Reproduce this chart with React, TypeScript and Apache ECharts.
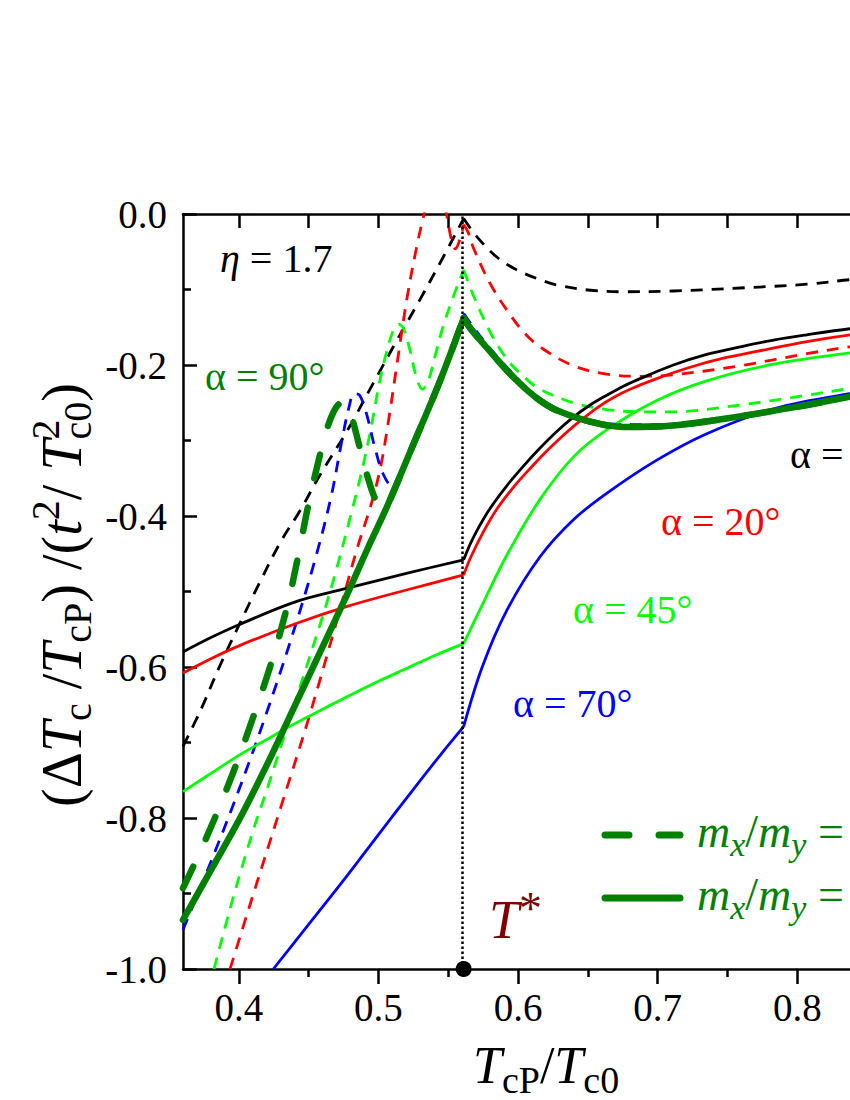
import React, { useEffect, useRef } from "react";
import * as echarts from "echarts";

const FONT = "Liberation Serif, Times New Roman, serif";

// ---- axis values ----
const X_MIN = 0.36;
const X_MAX = 0.9;
const X_MAJOR = [0.4, 0.5, 0.6, 0.7, 0.8, 0.9];
const X_MINOR = [0.45, 0.55, 0.65, 0.75, 0.85];
const Y_MIN = -1.0;
const Y_MAX = 0.0;
const Y_STEP = 0.2;
const T_STAR = 0.561;
const T_STAR_MARK = [[0.561, -1.0]];

// ---- curves: alpha = 10 deg (black) ----
const a10Solid = [
  [0.36, -0.58], [0.38, -0.561], [0.4, -0.544], [0.44, -0.514], [0.477, -0.496], [0.52, -0.476], [0.561, -0.458],
  [0.566, -0.436], [0.5715, -0.416], [0.5799, -0.39], [0.5919, -0.36], [0.6038, -0.334], [0.6157, -0.31], [0.6277, -0.288],
  [0.6396, -0.269], [0.6516, -0.253], [0.6635, -0.24], [0.6754, -0.228], [0.6874, -0.218], [0.7112, -0.2],
  [0.7351, -0.186], [0.759, -0.176], [0.7829, -0.167], [0.8068, -0.16], [0.8378, -0.152], [0.87, -0.146], [0.9, -0.141],
];
const a10Dashed = [
  [0.36, -0.705], [0.3722, -0.659], [0.3865, -0.598], [0.4, -0.545], [0.4152, -0.487], [0.43, -0.434], [0.4438, -0.393],
  [0.458, -0.346], [0.4773, -0.288], [0.4963, -0.224], [0.513, -0.168], [0.5298, -0.113], [0.5464, -0.057], [0.561, -0.006],
  [0.5704, -0.03], [0.5847, -0.057], [0.599, -0.074], [0.6157, -0.087], [0.6277, -0.094], [0.6516, -0.101], [0.6754, -0.103],
  [0.7112, -0.102], [0.759, -0.098], [0.8068, -0.093], [0.8378, -0.087], [0.9, -0.078],
];
// ---- alpha = 20 deg (red) ----
const a20Solid = [
  [0.36, -0.608], [0.38, -0.589], [0.4, -0.572], [0.44, -0.543], [0.477, -0.52], [0.52, -0.498], [0.561, -0.478],
  [0.566, -0.455], [0.5751, -0.421], [0.5847, -0.391], [0.5966, -0.362], [0.6086, -0.337], [0.6205, -0.314], [0.6324, -0.293],
  [0.6444, -0.274], [0.6563, -0.257], [0.6683, -0.243], [0.6802, -0.232], [0.6993, -0.218], [0.7232, -0.203],
  [0.747, -0.191], [0.7709, -0.182], [0.8068, -0.169], [0.8378, -0.16], [0.87, -0.153], [0.9, -0.147],
];
const a20Dashed = [
  [0.3937, -1.0], [0.41, -0.903], [0.43, -0.786], [0.45, -0.668], [0.47, -0.54], [0.4844, -0.445], [0.495, -0.383],
  [0.5015, -0.335], [0.5075, -0.27], [0.513, -0.202], [0.5202, -0.114], [0.5274, -0.043], [0.5322, -0.004], [0.537, 0.03],
  [0.5425, 0.04], [0.5465, 0.02], [0.5495, -0.008], [0.5525, -0.036], [0.555, -0.046], [0.5575, -0.038], [0.561, -0.014],
  [0.5644, -0.025], [0.568, -0.045], [0.5799, -0.092], [0.5919, -0.127], [0.6038, -0.156], [0.6157, -0.176],
  [0.6396, -0.201], [0.6634, -0.212], [0.6874, -0.215], [0.7112, -0.213], [0.759, -0.201], [0.8068, -0.185],
  [0.8378, -0.176], [0.9, -0.163],
];
// ---- alpha = 45 deg (lime) ----
const a45Solid = [
  [0.36, -0.765], [0.38, -0.741], [0.4, -0.717], [0.42, -0.696], [0.44, -0.675], [0.46, -0.656], [0.48, -0.637],
  [0.5, -0.619], [0.52, -0.602], [0.54, -0.585], [0.561, -0.569], [0.5727, -0.524], [0.5919, -0.452], [0.6157, -0.378],
  [0.6395, -0.322], [0.6634, -0.286], [0.6993, -0.247], [0.7351, -0.221], [0.7829, -0.199], [0.8378, -0.184], [0.9, -0.172],
];
const a45Dashed = [
  [0.3822, -1.0], [0.396, -0.905], [0.41, -0.818], [0.42, -0.763], [0.44, -0.648], [0.46, -0.533], [0.47, -0.47],
  [0.48, -0.4], [0.4875, -0.345], [0.4945, -0.285], [0.5005, -0.225], [0.5059, -0.182], [0.5105, -0.155],
  [0.5145, -0.146], [0.518, -0.152], [0.5225, -0.18], [0.527, -0.215], [0.5315, -0.232], [0.5355, -0.222],
  [0.541, -0.185], [0.5464, -0.148], [0.5535, -0.11], [0.561, -0.074], [0.568, -0.108], [0.5799, -0.156],
  [0.5919, -0.192], [0.6038, -0.215], [0.6157, -0.232], [0.6396, -0.25], [0.6634, -0.259], [0.6874, -0.262],
  [0.7112, -0.262], [0.759, -0.253], [0.8068, -0.24], [0.8378, -0.231], [0.9, -0.214],
];
// ---- alpha = 70 deg (blue) ----
const a70Solid = [
  [0.4247, -1.0], [0.45, -0.941], [0.4773, -0.877], [0.5, -0.822], [0.525, -0.762], [0.545, -0.715], [0.561, -0.679],
  [0.5743, -0.6], [0.5919, -0.525], [0.6157, -0.454], [0.6396, -0.405], [0.6634, -0.37], [0.6993, -0.326],
  [0.7351, -0.291], [0.7829, -0.258], [0.8378, -0.238], [0.9, -0.222],
];
const a70Dashed = [
  [0.36, -0.948], [0.38, -0.858], [0.4, -0.763], [0.42, -0.66], [0.44, -0.548], [0.455, -0.455], [0.466, -0.375],
  [0.474, -0.298], [0.479, -0.255], [0.4825, -0.238], [0.4865, -0.24], [0.4915, -0.265], [0.4975, -0.31],
  [0.5035, -0.345], [0.5106, -0.362], [0.517, -0.345], [0.525, -0.303], [0.5443, -0.216], [0.561, -0.132],
  [0.568, -0.15], [0.5799, -0.178], [0.5919, -0.203], [0.6038, -0.226], [0.6157, -0.245], [0.6396, -0.268],
  [0.6634, -0.278], [0.7, -0.279], [0.75, -0.269], [0.8068, -0.252], [0.8378, -0.24], [0.9, -0.222],
];
// ---- alpha = 90 deg (dark green, thick) ----
const a90Solid = [
  [0.36, -0.935], [0.38, -0.869], [0.4, -0.803], [0.42, -0.73], [0.4366, -0.665], [0.457, -0.585], [0.477, -0.506],
  [0.492, -0.444], [0.506, -0.388], [0.525, -0.305], [0.5443, -0.22], [0.561, -0.138], [0.566, -0.152],
  [0.5799, -0.182], [0.5919, -0.207], [0.6038, -0.229], [0.6157, -0.247], [0.6277, -0.26], [0.6516, -0.275],
  [0.6754, -0.282], [0.7112, -0.28], [0.759, -0.268], [0.8068, -0.253], [0.8378, -0.242], [0.87, -0.232], [0.9, -0.222],
];
const a90Dashed = [
  [0.36, -0.893], [0.377, -0.825], [0.3948, -0.745], [0.4092, -0.672], [0.4223, -0.6], [0.4343, -0.522],
  [0.4426, -0.452], [0.4498, -0.385], [0.4569, -0.328], [0.4629, -0.286], [0.469, -0.258], [0.4748, -0.248],
  [0.48, -0.265], [0.486, -0.305], [0.4925, -0.35], [0.4985, -0.381], [0.5035, -0.393], [0.506, -0.388],
  [0.525, -0.305], [0.5443, -0.22], [0.561, -0.138], [0.566, -0.152], [0.5799, -0.182], [0.5919, -0.207],
  [0.6038, -0.229], [0.6157, -0.247], [0.6277, -0.26], [0.6516, -0.275], [0.6754, -0.282], [0.7112, -0.28],
  [0.759, -0.268], [0.8068, -0.253], [0.8378, -0.242], [0.87, -0.232], [0.9, -0.222],
];

const BLACK = "#000000";
const RED = "#ff0000";
const LIME = "#00ff00";
const BLUE = "#0000ff";
const GREEN = "#008000";
const DARKRED = "#800000";

const THIN = 2.8;
const THICK = 6.5;
const THIN_DASH = [12, 9];
const THICK_DASH = [24, 30];

const CURVES = [
  { data: a10Dashed, color: BLACK, width: THIN, dash: THIN_DASH },
  { data: a20Dashed, color: RED, width: THIN, dash: THIN_DASH },
  { data: a45Dashed, color: LIME, width: THIN, dash: THIN_DASH },
  { data: a70Dashed, color: BLUE, width: THIN, dash: THIN_DASH },
  { data: a10Solid, color: BLACK, width: THIN, dash: null },
  { data: a20Solid, color: RED, width: THIN, dash: null },
  { data: a45Solid, color: LIME, width: THIN, dash: null },
  { data: a70Solid, color: BLUE, width: THIN, dash: null },
  { data: a90Dashed, color: GREEN, width: THICK, dash: THICK_DASH },
  { data: a90Solid, color: GREEN, width: THICK, dash: null },
];

// ---- rich text helper (graphic) ----
let measureCtx: CanvasRenderingContext2D | null = null;
function measure(text: string, size: number, italic?: boolean) {
  if (!measureCtx) measureCtx = document.createElement("canvas").getContext("2d");
  measureCtx!.font = `${italic ? "italic " : ""}${size}px ${FONT}`;
  return measureCtx!.measureText(text).width;
}
type Seg = { t: string; size: number; italic?: boolean; dy?: number; stack?: boolean };
function rich(segs: Seg[], color: string) {
  let x = 0;
  let lastW = 0;
  const children: any[] = [];
  for (const s of segs) {
    const w = measure(s.t, s.size, s.italic);
    const x0 = s.stack ? x - lastW : x;
    children.push({
      type: "text",
      x: x0,
      y: (s.dy || 0) - 0.34 * s.size,
      silent: true,
      style: {
        text: s.t,
        fontSize: s.size,
        fontFamily: FONT,
        fontStyle: s.italic ? "italic" : "normal",
        fill: color,
        align: "left",
        verticalAlign: "middle",
      },
    });
    if (s.stack) {
      x = Math.max(x, x0 + w);
    } else {
      x += w;
      lastW = w;
    }
  }
  return { children, width: x };
}

const LBL = 40;
const TEXT_LABELS: { segs: Seg[]; x: number; y: number; color: string }[] = [
  { segs: [{ t: "η", size: LBL, italic: true }, { t: " = 1.7", size: LBL }], x: 220, y: 272, color: BLACK },
  { segs: [{ t: "α = 90°", size: LBL }], x: 205, y: 390, color: GREEN },
  { segs: [{ t: "α = 10°", size: LBL }], x: 790, y: 468, color: BLACK },
  { segs: [{ t: "α = 20°", size: LBL }], x: 661, y: 535, color: RED },
  { segs: [{ t: "α = 45°", size: LBL }], x: 573, y: 623, color: LIME },
  { segs: [{ t: "α = 70°", size: LBL }], x: 513, y: 717, color: BLUE },
  { segs: [{ t: "T", size: 54, italic: true }, { t: "*", size: 46, dy: -14 }], x: 489, y: 938, color: DARKRED },
  {
    segs: [
      { t: "m", size: 46, italic: true }, { t: "x", size: 34, italic: true, dy: 9 }, { t: "/", size: 46 },
      { t: "m", size: 46, italic: true }, { t: "y", size: 34, italic: true, dy: 9 }, { t: " = 0.5", size: 46 },
    ],
    x: 697, y: 847, color: GREEN,
  },
  {
    segs: [
      { t: "m", size: 46, italic: true }, { t: "x", size: 34, italic: true, dy: 9 }, { t: "/", size: 46 },
      { t: "m", size: 46, italic: true }, { t: "y", size: 34, italic: true, dy: 9 }, { t: " = 1", size: 46 },
    ],
    x: 697, y: 910, color: GREEN,
  },
  {
    segs: [
      { t: "T", size: 52, italic: true }, { t: "cP", size: 38, dy: 10 }, { t: "/", size: 52 },
      { t: "T", size: 52, italic: true }, { t: "c0", size: 38, dy: 10 },
    ],
    x: 473, y: 1083, color: BLACK,
  },
];

const Y_TITLE: Seg[] = [
  { t: "(", size: 56 }, { t: "Δ", size: 56 }, { t: "T", size: 56, italic: true }, { t: "c", size: 40, dy: 10 },
  { t: " /", size: 56 }, { t: "T", size: 56, italic: true }, { t: "cP", size: 40, dy: 10 }, { t: ")", size: 56 },
  { t: " /(", size: 56 }, { t: "t", size: 56, italic: true }, { t: "2", size: 40, dy: -22 }, { t: "/ ", size: 56 },
  { t: "T", size: 56, italic: true }, { t: "2", size: 40, dy: -22 }, { t: "c0", size: 40, dy: 10, stack: true },
  { t: ")", size: 56 },
];

function splitAt(data: number[][], x0: number) {
  const i = data.findIndex((p) => p[0] === x0);
  if (i < 0) return [data];
  return [data.slice(0, i + 1), data.slice(i)];
}

function buildOption() {
  const axisLine = { show: true, onZero: false, lineStyle: { color: BLACK, width: 2.5 } };
  const tickStyle = { color: BLACK, width: 2.5 };
  const series: any[] = [];
  CURVES.forEach((c, ci) => {
    splitAt(c.data, T_STAR).forEach((part) => {
      series.push({
        type: "line",
        data: part,
        xAxisIndex: 0,
        yAxisIndex: 0,
        showSymbol: false,
        symbol: "none",
        smooth: 0.35,
        clip: true,
        silent: true,
        z: 2 + ci * 0.01,
        lineStyle: {
          color: c.color,
          width: c.width,
          type: c.dash ? c.dash : "solid",
          cap: c.width > 4 ? "round" : "butt",
          join: "round",
        },
      });
    });
  });
  series.push({
    type: "scatter",
    data: T_STAR_MARK,
    xAxisIndex: 0,
    yAxisIndex: 0,
    symbol: "circle",
    symbolSize: 16,
    clip: false,
    silent: true,
    z: 10,
    itemStyle: { color: BLACK, opacity: 1 },
    markLine: {
      silent: true,
      symbol: ["none", "none"],
      label: { show: false },
      lineStyle: { color: BLACK, width: 2.5, type: [2.5, 2.5], opacity: 1 },
      data: [{ xAxis: T_STAR }],
    },
  });

  const elements: any[] = [];
  TEXT_LABELS.forEach((l) => {
    const r = rich(l.segs, l.color);
    elements.push({ type: "group", x: l.x, y: l.y, silent: true, children: r.children });
  });
  const yt = rich(Y_TITLE, BLACK);
  elements.push({ type: "group", x: 81, y: 595 + yt.width / 2, rotation: Math.PI / 2, silent: true, children: yt.children });
  // legend line samples
  elements.push({
    type: "line", silent: true,
    shape: { x1: 605, y1: 835, x2: 680, y2: 835 },
    style: { stroke: GREEN, lineWidth: 7, lineDash: THICK_DASH, lineCap: "round" },
  });
  elements.push({
    type: "line", silent: true,
    shape: { x1: 605, y1: 898, x2: 680, y2: 898 },
    style: { stroke: GREEN, lineWidth: 7, lineCap: "round" },
  });

  return {
    animation: false,
    backgroundColor: "#ffffff",
    textStyle: { fontFamily: FONT },
    grid: { left: 183, top: 214, right: 63, bottom: 131, outerBoundsMode: "none", containLabel: false },
    xAxis: [
      {
        type: "value", min: X_MIN, max: X_MAX, position: "bottom",
        axisLine,
        axisTick: { show: true, inside: false, length: 15, lineStyle: tickStyle, customValues: X_MAJOR },
        axisLabel: {
          show: true, customValues: X_MAJOR, formatter: (v: number) => v.toFixed(1),
          fontSize: 39, fontFamily: FONT, color: BLACK, margin: 19,
        },
        splitLine: { show: false },
      },
      {
        type: "value", min: X_MIN, max: X_MAX, position: "bottom",
        axisLine: { show: false, onZero: false },
        axisTick: { show: true, inside: false, length: 8, lineStyle: tickStyle, customValues: X_MINOR },
        axisLabel: { show: false },
        splitLine: { show: false },
      },
      {
        type: "value", min: X_MIN, max: X_MAX, position: "top",
        axisLine,
        axisTick: { show: true, inside: true, length: 14, lineStyle: tickStyle, customValues: [...X_MAJOR, ...X_MINOR] },
        axisLabel: { show: false },
        splitLine: { show: false },
      },
    ],
    yAxis: [
      {
        type: "value", min: Y_MIN, max: Y_MAX, interval: Y_STEP, position: "left",
        axisLine,
        axisTick: { show: true, inside: true, length: 14, lineStyle: tickStyle },
        minorTick: { show: true, splitNumber: 2, length: 8, lineStyle: tickStyle },
        axisLabel: {
          show: true, formatter: (v: number) => v.toFixed(1),
          fontSize: 39, fontFamily: FONT, color: BLACK, margin: 16,
        },
        splitLine: { show: false },
        minorSplitLine: { show: false },
      },
      {
        type: "value", min: Y_MIN, max: Y_MAX, interval: Y_STEP, position: "right",
        axisLine,
        axisTick: { show: true, inside: true, length: 14, lineStyle: tickStyle },
        minorTick: { show: true, splitNumber: 2, length: 8, lineStyle: tickStyle },
        axisLabel: { show: false },
        splitLine: { show: false },
      },
    ],
    series,
    graphic: { elements },
  };
}

export default function App() {
  const ref = useRef<HTMLDivElement>(null);
  useEffect(() => {
    if (!ref.current) return;
    const chart = echarts.init(ref.current, null, { renderer: "svg" });
    chart.setOption(buildOption() as any);
    return () => chart.dispose();
  }, []);
  return (
    <div
      style={{
        position: "fixed", left: 0, top: 0, width: 850, height: 1100,
        overflow: "hidden", background: "#ffffff",
      }}
    >
      <div ref={ref} style={{ width: 1000, height: 1100 }} />
    </div>
  );
}
